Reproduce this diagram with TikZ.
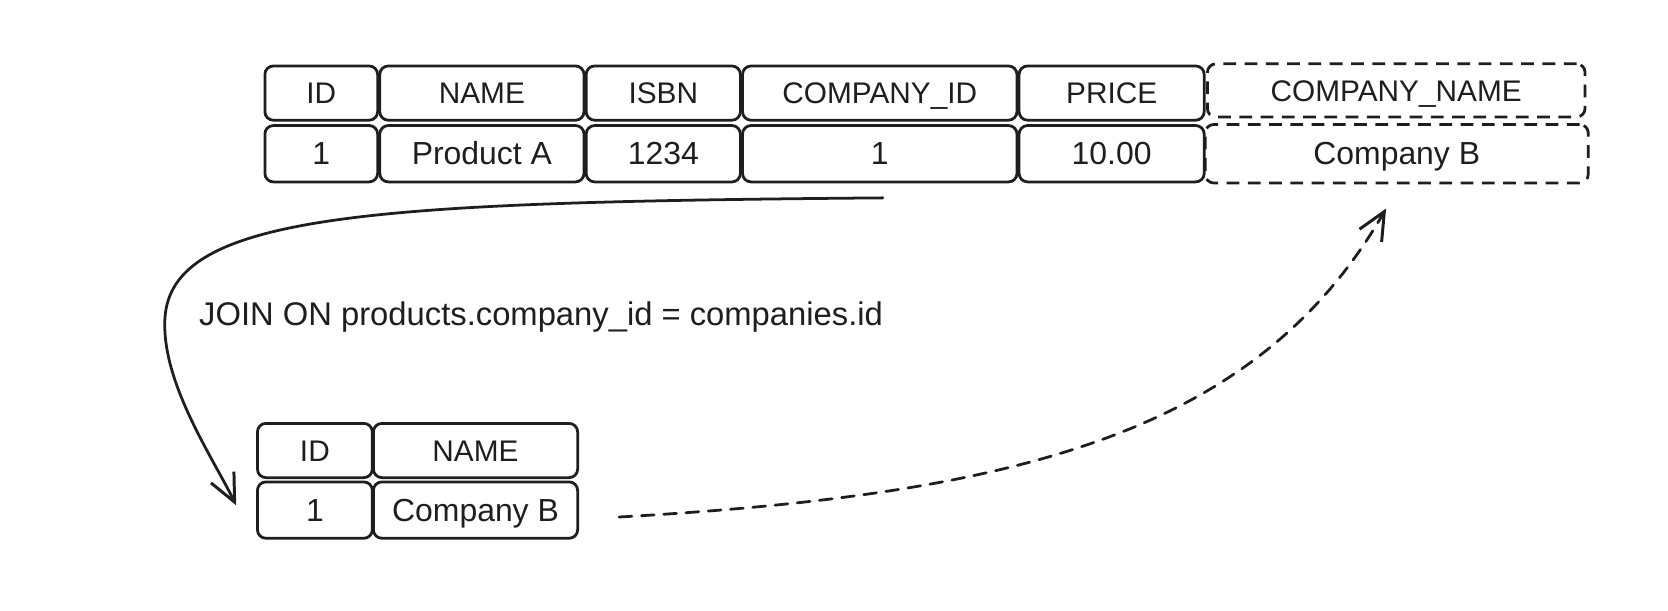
\documentclass[tikz,border=0pt]{standalone}
\usepackage{fontspec}
\setmainfont{Liberation Sans}
\usetikzlibrary{arrows.meta}
\definecolor{ink}{HTML}{1E1E1E}
\begin{document}
\begin{tikzpicture}[x=1pt,y=-1pt,
  cell/.style={draw=ink, line width=2.6pt, rounded corners=8pt, inner sep=0pt,
    text=ink, font=\fontsize{28}{32}\selectfont, text height=20pt, text depth=0pt},
  dcell/.style={cell, dash pattern=on 12pt off 8pt},
  vcell/.style={cell, font=\fontsize{30}{34}\selectfont, text height=21pt},
  dvcell/.style={vcell, dash pattern=on 12pt off 8pt},
  lbl/.style={text=ink, font=\fontsize{30.8}{36}\selectfont, inner sep=0pt},
  conn/.style={draw=ink, line width=2.6pt, line cap=round,
    -{Straight Barb[length=26pt,width=24pt,line width=2.8pt]}},
  dconn/.style={conn, dash pattern=on 12pt off 9pt}]
\useasboundingbox (0,0) rectangle (1568,574);
% top table header
\node[cell, minimum width=106pt, minimum height=51pt] (h1) at (302,87.5) {ID};
\node[cell, minimum width=192pt, minimum height=51pt] (h2) at (453,87.5) {NAME};
\node[cell, minimum width=145pt, minimum height=51pt] (h3) at (623.5,87.5) {ISBN};
\node[cell, minimum width=258pt, minimum height=51pt] (h4) at (827,87.5) {COMPANY\_ID};
\node[cell, minimum width=174pt, minimum height=51pt] (h5) at (1045,87.5) {PRICE};
\node[dcell, minimum width=355pt, minimum height=50pt] (h6) at (1312.5,85) {COMPANY\_NAME};
% top table row
\node[vcell, minimum width=106pt, minimum height=53pt] (r1) at (302,144.5) {1};
\node[vcell, minimum width=192pt, minimum height=53pt] (r2) at (453,144.5) {Product A};
\node[vcell, minimum width=145pt, minimum height=53pt] (r3) at (623.5,144.5) {1234};
\node[vcell, minimum width=258pt, minimum height=53pt] (r4) at (827,144.5) {1};
\node[vcell, minimum width=174pt, minimum height=53pt] (r5) at (1045,144.5) {10.00};
\node[dvcell, minimum width=360pt, minimum height=55pt] (r6) at (1313,144.5) {Company B};
% bottom table
\node[cell, minimum width=108pt, minimum height=51pt] (bh1) at (296,423.5) {ID};
\node[cell, minimum width=192pt, minimum height=51pt] (bh2) at (447,423.5) {NAME};
\node[vcell, minimum width=108pt, minimum height=53pt] (br1) at (296,479.5) {1};
\node[vcell, minimum width=192pt, minimum height=53pt] (br2) at (447,479.5) {Company B};
% label
\node[lbl, anchor=west] (join) at (187,298) {JOIN ON products.company\_id = companies.id};
% connectors
\coordinate (s1) at (830,186);
\coordinate (e1) at (222,475);
\coordinate (s2) at (582,486);
\coordinate (e2) at (1303,196);
\draw[conn] (s1) .. controls (350,190) and (160,200) .. (155,300)
  .. controls (152,360) and (200,430) .. (e1);
\draw[dconn] (s2) .. controls (950,465) and (1180,410) .. (e2);
\end{tikzpicture}
\end{document}
